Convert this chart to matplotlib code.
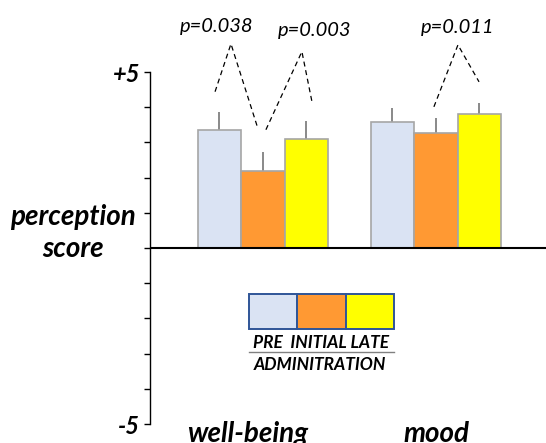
import numpy as np
import matplotlib
matplotlib.use("Agg")
import matplotlib.pyplot as plt
from matplotlib.patches import Rectangle
from matplotlib.lines import Line2D

plt.rcParams["font.family"] = ["Lato", "DejaVu Sans"]

categories = ["well-being", "mood"]
phases = ["PRE", "INITIAL", "LATE"]
phase_colors = ["#dae3f3", "#ff9933", "#ffff00"]

means = {
    "PRE": [3.36, 3.58],
    "INITIAL": [2.20, 3.28],
    "LATE": [3.11, 3.82],
}
errors = {
    "PRE": [0.49, 0.40],
    "INITIAL": [0.53, 0.40],
    "LATE": [0.51, 0.31],
}

# p-value brackets: label, (left point, apex, right point) in data units, text position
p_labels = ["p=0.038", "p=0.003", "p=0.011"]
p_paths = [
    [(-0.277, 4.44), (-0.185, 5.80), (-0.029, 3.39)],
    [(0.017, 3.36), (0.225, 5.58), (0.283, 4.16)],
    [(0.988, 4.01), (1.127, 5.77), (1.249, 4.72)],
]
p_text_pos = [(-0.266, 6.29), (0.30, 6.17), (1.127, 6.26)]

W, H = 546, 443
fig = plt.figure(figsize=(W / 100, H / 100), dpi=100, facecolor="white")
ax = fig.add_axes([150 / W, 19 / H, 396 / W, 352 / H])

bar_w = 0.2514
group_x = np.arange(len(categories))
for i, phase in enumerate(phases):
    xs = group_x + (i - 1) * bar_w
    ax.bar(xs, means[phase], width=bar_w, color=phase_colors[i],
           edgecolor="#a6a6a6", linewidth=1.2, zorder=2)
    ax.errorbar(xs, means[phase], yerr=[np.zeros(len(xs)), errors[phase]],
                fmt="none", ecolor="#808080", elinewidth=1.3, capsize=0, zorder=1)

for label, path, (tx, ty) in zip(p_labels, p_paths, p_text_pos):
    px, py = zip(*path)
    ax.plot(px, py, color="black", linestyle=(0, (4, 3)), linewidth=0.9, clip_on=False)
    ax.text(tx, ty, label, ha="center", va="center", fontsize=14.5,
            style="italic", clip_on=False)

ax.axhline(0, color="black", linewidth=1.5, zorder=3)
ax.set_xlim(-0.653, 1.636)
ax.set_ylim(-5, 5)
ax.set_yticks(range(-5, 6))
ax.set_yticklabels(["-5"] + [""] * 9 + ["+5"], fontsize=17,
                   fontweight="bold", style="italic")
ax.tick_params(axis="y", direction="out", length=4, width=1, pad=3)
ax.set_xticks([])
for spine in ["top", "right", "bottom"]:
    ax.spines[spine].set_visible(False)
ax.spines["left"].set_linewidth(1)

# category labels below the plot (bottom slightly cut, as in the source)
label_shift = [-0.09, 0.0]
for cx, shift, name in zip(group_x, label_shift, categories):
    ax.text(cx + shift, -5.5, name, ha="center", va="baseline", fontsize=20,
            fontweight="bold", style="italic", clip_on=False)

fig.text(73 / W, 1 - 233 / H, "perception\nscore", ha="center", va="center",
         fontsize=20, fontweight="bold", style="italic", linespacing=1.3)

# legend strip
cell_w = 48.3
for i, color in enumerate(phase_colors):
    fig.patches.append(Rectangle(((249 + i * cell_w) / W, 1 - 329 / H),
                                 cell_w / W, 35 / H, transform=fig.transFigure,
                                 facecolor=color, edgecolor="#2f5597",
                                 linewidth=1.4))
fig.text(321 / W, 1 - 343 / H, "PRE  INITIAL LATE", ha="center", va="center",
         fontsize=12.5, fontweight="bold", style="italic")
fig.lines.append(Line2D([249 / W, 394 / W], [1 - 352 / H, 1 - 352 / H],
                        transform=fig.transFigure, color="#808080", linewidth=1))
fig.text(320 / W, 1 - 365 / H, "ADMINITRATION", ha="center", va="center",
         fontsize=12.5, fontweight="bold", style="italic")

fig.savefig("out.png", dpi=100, facecolor="white")
